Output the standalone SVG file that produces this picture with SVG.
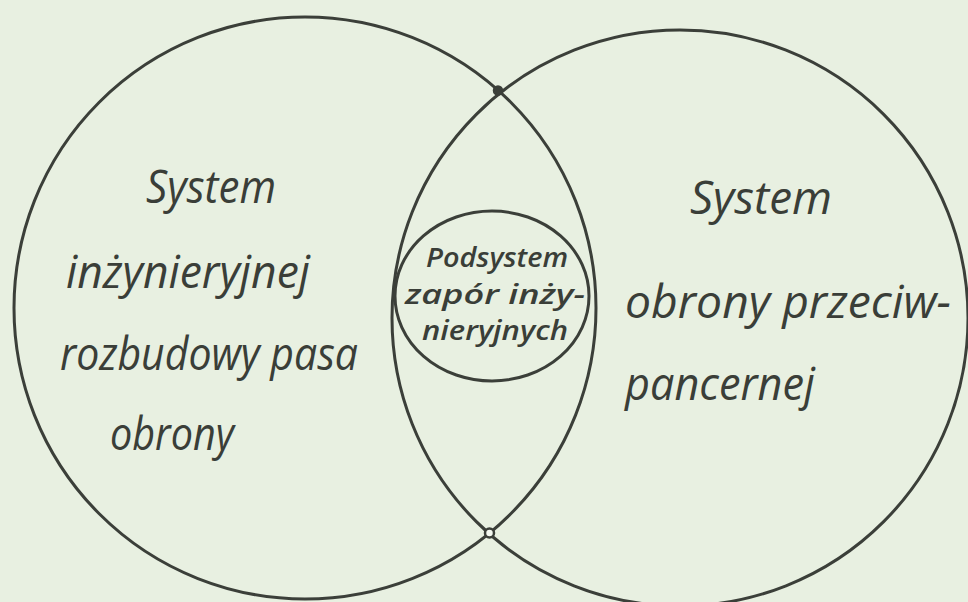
<svg xmlns="http://www.w3.org/2000/svg" width="968" height="602" viewBox="0 0 968 602">
  <style>
    .ring { fill: none; stroke: #3b3f39; stroke-width: 3; }
    .big { font-family: "Open Sans", "DejaVu Sans", sans-serif; font-style: italic; font-size: 45px; fill: #3a3e38; }
    .small { font-family: "Open Sans", "DejaVu Sans", sans-serif; font-style: italic; font-weight: 600; font-size: 27px; fill: #3a3e38; }
  </style>
  <rect x="0" y="0" width="968" height="602" fill="#e8f0e1"/>

  <!-- Left system -->
  <g id="system-engineering">
    <circle class="ring" cx="305" cy="308" r="291"/>
    <text class="big" x="146" y="203" textLength="130" lengthAdjust="spacingAndGlyphs">System</text>
    <text class="big" x="66" y="288" textLength="244" lengthAdjust="spacingAndGlyphs">inżynieryjnej</text>
    <text class="big" x="60" y="370" textLength="298" lengthAdjust="spacingAndGlyphs">rozbudowy pasa</text>
    <text class="big" x="110" y="450" textLength="124" lengthAdjust="spacingAndGlyphs">obrony</text>
  </g>

  <!-- Right system -->
  <g id="system-antitank">
    <circle class="ring" cx="680" cy="318" r="288"/>
    <text class="big" x="690" y="214" textLength="142" lengthAdjust="spacingAndGlyphs">System</text>
    <text class="big" x="625" y="318" textLength="326" lengthAdjust="spacingAndGlyphs">obrony przeciw-</text>
    <text class="big" x="625" y="400" textLength="190" lengthAdjust="spacingAndGlyphs">pancernej</text>
  </g>

  <!-- Shared subsystem -->
  <g id="subsystem-barriers">
    <ellipse class="ring" cx="492" cy="296" rx="97" ry="85"/>
    <text class="small" x="426" y="267" textLength="142" lengthAdjust="spacingAndGlyphs">Podsystem</text>
    <text class="small" x="405" y="304" textLength="180" lengthAdjust="spacingAndGlyphs">zapór inży-</text>
    <text class="small" x="422" y="340" textLength="146" lengthAdjust="spacingAndGlyphs">nieryjnych</text>
  </g>

  <!-- Crossing points of the two systems -->
  <g id="connectors">
    <circle cx="498" cy="90.5" r="4.5" fill="#3b3f39" stroke="#3b3f39" stroke-width="1.5"/>
    <circle cx="489.5" cy="533" r="4.5" fill="#f4f8f0" stroke="#3b3f39" stroke-width="2.5"/>
  </g>
</svg>
